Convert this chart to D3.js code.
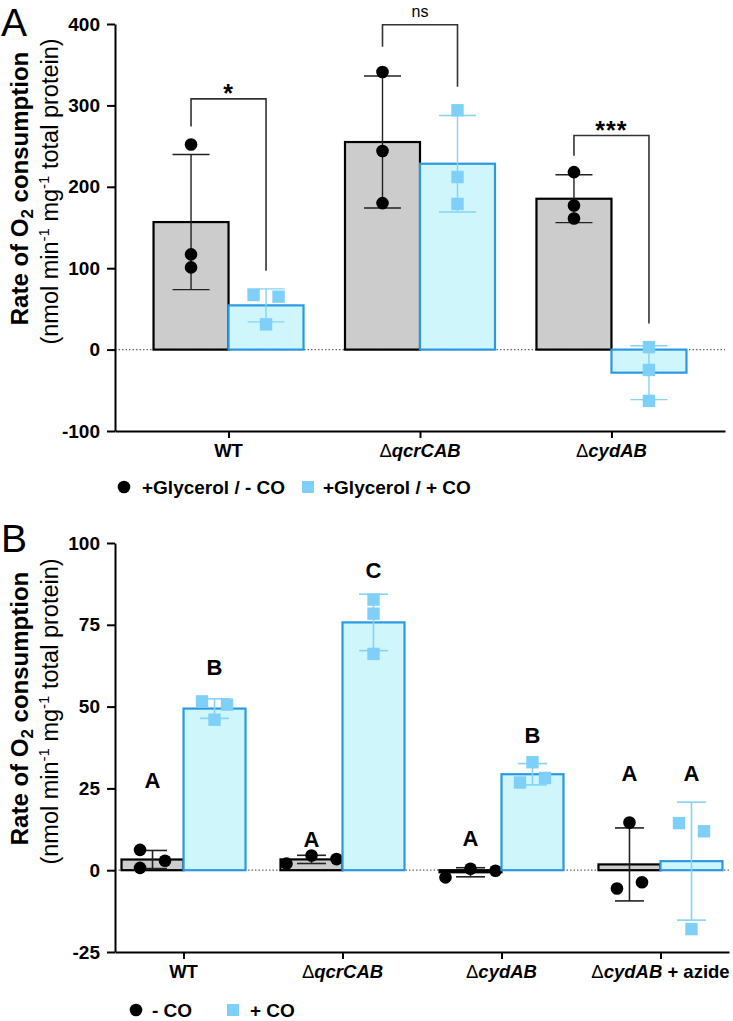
<!DOCTYPE html>
<html><head><meta charset="utf-8">
<script src="https://cdn.jsdelivr.net/npm/d3@7"></script>
<style>
body{margin:0;background:#fff}
svg{display:block}
text{font-family:"Liberation Sans",Arial,Helvetica,sans-serif}
</style>
</head><body>
<svg id="chart" width="733" height="1021"></svg>
<script>
// ---------- Panel A data ----------
const catsA = ["WT", "ΔqcrCAB", "ΔcydAB"];
const noCO_A = [[252, 117, 101], [341, 244, 180], [218, 177, 161]];
const CO_A = [[67, 65, 31], [294, 212, 179], [3, -25, -63]];
const ticksA = [-100, 0, 100, 200, 300, 400];
const sigLabelsA = ["*", "ns", "***"];
const sigTopA = [308, 399, 263];
const sigLeftEndA = [274, 372, 238];
const sigRightEndA = [97, 323, 32];
const legendA = ["+Glycerol / - CO", "+Glycerol / + CO"];

// ---------- Panel B data ----------
const catsB = ["WT", "ΔqcrCAB", "ΔcydAB", "ΔcydAB + azide"];
const noCO_B = [[6.2, 2.9, 0.7], [2.0, 4.5, 3.4], [-2.2, 0.45, -0.15], [14.6, -5.6, -3.7]];
const CO_B = [[51.6, 50.6, 46], [82.7, 78.4, 66.1], [33, 26.8, 28.2], [14.4, 11.9, -18]];
const ticksB = [-25, 0, 25, 50, 75, 100];
const lettersNoCO_B = ["A", "A", "A", "A"];
const lettersCO_B = ["B", "C", "B", "A"];
const letterYNoCO_B = [25.2, 7.2, 7.5, 27.4];
const letterYCO_B = [59.8, 89.4, 39, 27.4];
const legendB = ["- CO", "+ CO"];

// ---------- styles ----------
const GREY_FILL = "#cccccc", GREY_STROKE = "#000000";
const BLUE_FILL = "#cef6fb", BLUE_STROKE = "#2b98e3";
const SQ_COLOR = "#7fd0f9";
const ERR_BLUE = "#83d3f8";
const FONT = '"Liberation Sans",Arial,Helvetica,sans-serif';

const svg = d3.select("#chart");

function jitter(vals, y, d, s) {
  const py = vals.map(v => y(v));
  const n = vals.length;
  const parent = d3.range(n);
  const find = i => parent[i] === i ? i : (parent[i] = find(parent[i]));
  for (let i = 0; i < n; i++) for (let j = i + 1; j < n; j++)
    if (Math.abs(py[i] - py[j]) < d) parent[find(i)] = find(j);
  const groups = d3.group(d3.range(n), i => find(i));
  const off = new Array(n).fill(0);
  for (const idx of groups.values()) {
    const m = idx.length;
    if (m === 1) continue;
    let all = true;
    for (let a = 0; a < m; a++) for (let b = a + 1; b < m; b++)
      if (Math.abs(py[idx[a]] - py[idx[b]]) >= d) all = false;
    if (all) idx.forEach((i, r) => off[i] = (r - (m - 1) / 2) * s);
    else idx.slice().sort((a, b) => py[a] - py[b]).forEach((i, r) => off[i] = (r % 2 === 0 ? -s / 2 : s / 2));
  }
  return off;
}

function catLabel(sel, label) {
  sel.text(null);
  if (label.startsWith("Δ")) {
    sel.append("tspan").attr("font-weight", "normal").text("Δ");
    const rest = label.slice(1);
    const sp = rest.indexOf(" ");
    const gene = sp < 0 ? rest : rest.slice(0, sp);
    sel.append("tspan").attr("font-style", "italic").attr("font-weight", "bold").text(gene);
    if (sp >= 0) sel.append("tspan").attr("font-weight", "bold").text(rest.slice(sp));
  } else {
    sel.append("tspan").attr("font-weight", "bold").text(label);
  }
}

function yTitle(g, xBold, xReg, cyBold, cyReg) {
  const t1 = g.append("text").attr("transform", `translate(${xBold},${cyBold}) rotate(-90)`)
    .attr("text-anchor", "middle").attr("font-size", 24).attr("font-weight", "bold").attr("fill", "#000");
  t1.append("tspan").text("Rate of O");
  t1.append("tspan").attr("font-size", 17).attr("dy", 5).text("2");
  t1.append("tspan").attr("dy", -5).text(" consumption");
  const t2 = g.append("text").attr("transform", `translate(${xReg},${cyReg}) rotate(-90)`)
    .attr("text-anchor", "middle").attr("font-size", 23.5).attr("fill", "#000");
  t2.append("tspan").text("(nmol min");
  t2.append("tspan").attr("font-size", 15).attr("dy", -9).text("-1");
  t2.append("tspan").attr("dy", 9).text(" mg");
  t2.append("tspan").attr("font-size", 15).attr("dy", -9).text("-1");
  t2.append("tspan").attr("dy", 9).text(" total protein)");
}

function drawPanel(cfg) {
  const g = svg.append("g");
  const x = d3.scalePoint().domain(cfg.cats).range([cfg.left, cfg.right]).padding(cfg.pad);
  const y = d3.scaleLinear().domain(cfg.domain).range([cfg.bottom, cfg.top]);
  const w = cfg.barW;

  // zero line
  g.append("line").attr("x1", cfg.left).attr("x2", cfg.right).attr("y1", y(0)).attr("y2", y(0))
    .attr("stroke", "#666").attr("stroke-width", 1.2).attr("stroke-dasharray", "1.5,2");

  const series = [
    {data: cfg.s0, dir: -1, fill: GREY_FILL, stroke: GREY_STROKE, err: "#222", shape: "circle"},
    {data: cfg.s1, dir: 1, fill: BLUE_FILL, stroke: BLUE_STROKE, err: ERR_BLUE, shape: "square"}
  ];

  cfg.cats.forEach((c, i) => {
    series.forEach(s => {
      const vals = s.data[i];
      const m = d3.mean(vals), sd = d3.deviation(vals);
      const cx = x(c) + s.dir * w / 2;
      const gg = g.append("g");
      gg.append("rect").attr("x", cx - w / 2).attr("y", y(Math.max(m, 0)))
        .attr("width", w).attr("height", Math.abs(y(m) - y(0)))
        .attr("fill", s.fill).attr("stroke", s.stroke).attr("stroke-width", 2.2);
      // error bar
      gg.append("line").attr("x1", cx).attr("x2", cx).attr("y1", y(m - sd)).attr("y2", y(m + sd))
        .attr("stroke", s.err).attr("stroke-width", cfg.errW);
      [m - sd, m + sd].forEach(v => gg.append("line")
        .attr("x1", cx - cfg.capW / 2).attr("x2", cx + cfg.capW / 2).attr("y1", y(v)).attr("y2", y(v))
        .attr("stroke", s.err).attr("stroke-width", cfg.errW));
      // points
      const off = jitter(vals, y, 12, 25);
      vals.forEach((v, k) => {
        if (s.shape === "circle") {
          gg.append("circle").attr("cx", cx + off[k]).attr("cy", y(v)).attr("r", 6.3).attr("fill", "#000");
        } else {
          gg.append("rect").attr("x", cx + off[k] - 6.2).attr("y", y(v) - 6.2)
            .attr("width", 12.4).attr("height", 12.4).attr("fill", SQ_COLOR);
        }
      });
    });
  });

  // axes
  const ya = g.append("g").attr("transform", `translate(${cfg.left},0)`)
    .call(d3.axisLeft(y).tickValues(cfg.ticks).tickFormat(d => String(d))
      .tickSize(8).tickSizeOuter(0).tickPadding(7));
  ya.select(".domain").attr("stroke", "#000").attr("stroke-width", 2);
  ya.selectAll(".tick line").attr("stroke", "#000").attr("stroke-width", 2);
  ya.selectAll(".tick text").attr("font-family", FONT).attr("font-size", 19).attr("font-weight", "bold").attr("fill", "#000");

  const xa = g.append("g").attr("transform", `translate(0,${cfg.bottom})`)
    .call(d3.axisBottom(x).tickSize(7).tickSizeOuter(0).tickFormat(""));
  xa.select(".domain").attr("stroke", "#000").attr("stroke-width", 2);
  xa.selectAll(".tick line").attr("stroke", "#000").attr("stroke-width", 2);
  xa.selectAll(".tick text").remove();
  cfg.cats.forEach(c => {
    g.append("text").attr("x", x(c)).attr("y", cfg.catY).attr("text-anchor", "middle")
      .attr("font-size", 18.5).attr("fill", "#000").call(catLabel, c);
  });

  yTitle(g, 28, 58, (cfg.top + cfg.bottom) / 2 + cfg.titleShift, (cfg.top + cfg.bottom) / 2 + cfg.titleShift + 3);

  g.append("text").attr("x", 1).attr("y", cfg.letterY).attr("font-size", 39).attr("fill", "#000").text(cfg.panel);

  // legend
  const lg = g.append("g");
  lg.append("circle").attr("cx", cfg.leg[0]).attr("cy", cfg.legY).attr("r", 6.3).attr("fill", "#000");
  lg.append("text").attr("x", cfg.leg[1]).attr("y", cfg.legY + 6.5).attr("font-size", 19).attr("font-weight", "bold").text(cfg.legText[0]);
  lg.append("rect").attr("x", cfg.leg[2]).attr("y", cfg.legY - 6).attr("width", 12).attr("height", 12).attr("fill", SQ_COLOR);
  lg.append("text").attr("x", cfg.leg[3]).attr("y", cfg.legY + 6.5).attr("font-size", 19).attr("font-weight", "bold").text(cfg.legText[1]);

  return {g, x, y};
}

// ---------- Panel A ----------
const A = drawPanel({
  panel: "A", letterY: 35.5, cats: catsA, s0: noCO_A, s1: CO_A,
  left: 115, right: 725, pad: 0.593, top: 24, bottom: 431, domain: [-100, 400], ticks: ticksA,
  barW: 75, capW: 37, errW: 1.4, catY: 457, titleShift: -39,
  legY: 487, leg: [124, 142, 302, 323], legText: legendA
});
catsA.forEach((c, i) => {
  const xl = A.x(c) - 75 / 2, xr = A.x(c) + 75 / 2;
  A.g.append("path")
    .attr("d", `M${xl},${A.y(sigLeftEndA[i])}V${A.y(sigTopA[i])}H${xr}V${A.y(sigRightEndA[i])}`)
    .attr("fill", "none").attr("stroke", "#333").attr("stroke-width", 1.6);
  const isNs = sigLabelsA[i] === "ns";
  A.g.append("text").attr("x", A.x(c)).attr("y", A.y(sigTopA[i]) + (isNs ? -8 : 3))
    .attr("text-anchor", "middle").attr("font-size", isNs ? 16 : 25)
    .attr("font-weight", isNs ? "normal" : "bold").attr("letter-spacing", isNs ? 0 : 1)
    .text(sigLabelsA[i]);
});

// ---------- Panel B ----------
const B = drawPanel({
  panel: "B", letterY: 552, cats: catsB, s0: noCO_B, s1: CO_B,
  left: 115, right: 729, pad: 0.431, top: 543, bottom: 952, domain: [-25, 100], ticks: ticksB,
  barW: 62, capW: 29, errW: 1.6, catY: 978, titleShift: -39,
  legY: 1010, leg: [136, 152, 227, 250], legText: legendB
});
catsB.forEach((c, i) => {
  B.g.append("text").attr("x", B.x(c) - 31).attr("y", B.y(letterYNoCO_B[i])).attr("text-anchor", "middle")
    .attr("font-size", 22).attr("font-weight", "bold").text(lettersNoCO_B[i]);
  B.g.append("text").attr("x", B.x(c) + 31).attr("y", B.y(letterYCO_B[i])).attr("text-anchor", "middle")
    .attr("font-size", 22).attr("font-weight", "bold").text(lettersCO_B[i]);
});
</script>
</body></html>
